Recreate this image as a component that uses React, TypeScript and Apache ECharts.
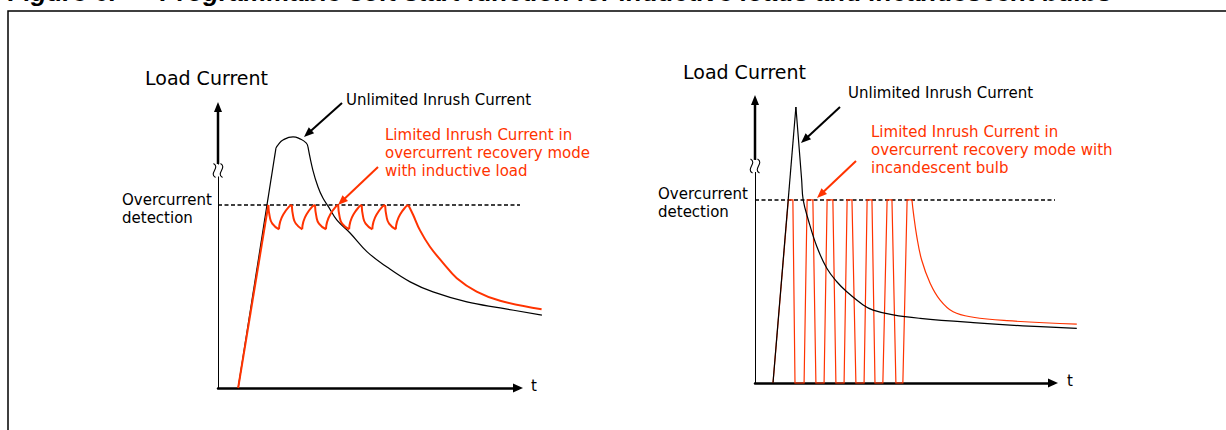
import React, { useEffect, useRef } from "react";
import * as echarts from "echarts";

// ---------- texts ----------
const titleNumber = "Figure 6.";
const titleText = "Programmable soft start function for inductive loads and incandescent bulbs";
const axisName = "Load Current";
const timeName = "t";
const detectionLines = ["Overcurrent", "detection"];
const unlimitedLabel = "Unlimited Inrush Current";
const leftLimitedLines = ["Limited Inrush Current in", "overcurrent recovery mode", "with inductive load"];
const rightLimitedLines = ["Limited Inrush Current in", "overcurrent recovery mode with", "incandescent bulb"];

// ---------- data (t in arbitrary time units, current in arbitrary units) ----------
const overcurrentLevel = 64;
const leftDetection = [[0, overcurrentLevel], [99.7, overcurrentLevel]];
const rightDetection = [[0, overcurrentLevel], [99.7, overcurrentLevel]];

const leftAxisUpper = [[0, 78.3], [0, 98.25]];
const rightAxisUpper = [[0, 78.0], [0, 98.95]];

// left chart: inductive load
const leftBlackRise = [[6.6, 0], [19.0, 83.9]];
const leftBlackDome = [[19.0, 83.9], [19.7, 85.0], [21.3, 86.7], [24.6, 87.8], [26.9, 87.1], [28.9, 85.7], [29.5, 84.3]];
const leftBlackDecay = [[29.5, 84.3], [31.1, 76.2], [32.8, 70.3], [34.4, 66.4], [36.1, 63.6], [39.0, 58.7], [43.3, 54.2], [48.9, 47.6], [55.4, 42.3], [63.0, 37.1], [70.5, 33.6], [81.6, 30.1], [92.5, 28.0], [106.2, 25.5]];

const leftRedRise = [[6.6, 0], [16.5, 64]];
const leftRedFall1 = [[16.5, 64], [16.95, 60], [17.8, 57.5], [20.0, 55.5]];
const leftRedRise1 = [[20.0, 55.5], [20.35, 58], [21.4, 60.7], [23.4, 63.5], [24.2, 64]];
const leftRedFall2 = [[24.2, 64], [24.65, 60], [25.5, 57.5], [27.6, 55.5]];
const leftRedRise2 = [[27.6, 55.5], [27.95, 58], [29.0, 60.7], [31.0, 63.5], [31.8, 64]];
const leftRedFall3 = [[31.8, 64], [32.25, 60], [33.1, 57.5], [35.4, 55.5]];
const leftRedRise3 = [[35.4, 55.5], [35.75, 58], [36.8, 60.7], [38.7, 63.5], [39.4, 64]];
const leftRedFall4 = [[39.4, 64], [39.85, 60], [40.7, 57.5], [43.0, 55.5]];
const leftRedRise4 = [[43.0, 55.5], [43.35, 58], [44.4, 60.7], [46.4, 63.5], [47.1, 64]];
const leftRedFall5 = [[47.1, 64], [47.55, 60], [48.4, 57.5], [50.6, 55.5]];
const leftRedRise5 = [[50.6, 55.5], [50.95, 58], [52.0, 60.7], [54.0, 63.5], [54.8, 64]];
const leftRedFall6 = [[54.8, 64], [55.25, 60], [56.1, 57.5], [58.3, 55.5]];
const leftRedRise6 = [[58.3, 55.5], [58.65, 58], [59.7, 60.7], [61.7, 63.5], [62.4, 64]];
const leftRedTail = [[62.4, 64], [64.0, 60.5], [66.2, 55.2], [69.5, 49.4], [73.9, 43.6], [78.3, 38.4], [84.8, 33.7], [92.5, 30.5], [106.1, 27.5]];

// right chart: incandescent bulb
const rightBlackRise = [[5.94, 0], [13.5, 96.5]];
const rightBlackFall = [[13.5, 96.5], [15.4, 71.0], [15.9, 64.0], [17.6, 57.0], [20.4, 47.7], [23.7, 40.1], [27.0, 35.4], [30.3, 31.9], [35.7, 27.3], [39.0, 25.5], [45.6, 23.8], [54.5, 22.6], [72.0, 21.1], [88.4, 20.0], [106.2, 19.1]];
const rightRedPulses = [[5.94, 0], [11.0, 64], [12.5, 64], [13.2, 0], [16.2, 0], [17.2, 64], [19.1, 64], [20.1, 0], [22.8, 0], [23.8, 64], [25.7, 64], [26.7, 0], [29.4, 0], [30.4, 64], [32.0, 64], [33.3, 0], [36.0, 0], [37.0, 64], [38.6, 64], [39.6, 0], [42.2, 0], [43.6, 64], [45.2, 64], [46.5, 0], [48.8, 0], [50.2, 64], [51.8, 64]];
const rightRedTail = [[51.8, 64], [52.3, 59.3], [53.4, 51.2], [55.0, 43.0], [57.8, 34.9], [61.1, 29.0], [65.4, 24.9], [72.0, 23.0], [83.1, 21.8], [106.2, 20.6]];

// ---------- styles ----------
const RED = "#ff3300";
const BLACK = "#000000";
const FONT = "DejaVu Sans";

function ln(grid: number, data: number[][], color: string, width: number, smooth: boolean | number, z: number, dash?: any) {
  return {
    type: "line",
    xAxisIndex: grid,
    yAxisIndex: grid,
    data,
    symbol: "none",
    showSymbol: false,
    smooth,
    clip: false,
    silent: true,
    z,
    lineStyle: { color, width, type: dash || "solid", cap: "butt", join: "miter" },
  };
}

function txt(text: string, x: number, y: number, size: number, color = BLACK, extra: any = {}) {
  return {
    type: "text",
    z: 10,
    style: {
      text,
      x,
      y,
      fill: color,
      fontSize: size,
      fontFamily: FONT,
      textAlign: "left",
      textVerticalAlign: "middle",
      align: "left",
      verticalAlign: "middle",
      ...extra,
    },
  };
}

function arrow(x1: number, y1: number, x2: number, y2: number, color: string, width: number, head = 10, headW = 8) {
  const dx = x2 - x1;
  const dy = y2 - y1;
  const len = Math.hypot(dx, dy);
  const ux = dx / len;
  const uy = dy / len;
  const bx = x2 - ux * head;
  const by = y2 - uy * head;
  const px = -uy;
  const py = ux;
  return [
    { type: "line", z: 10, shape: { x1, y1, x2: bx + ux, y2: by + uy }, style: { stroke: color, lineWidth: width } },
    {
      type: "polygon",
      z: 10,
      shape: { points: [[x2, y2], [bx + (px * headW) / 2, by + (py * headW) / 2], [bx - (px * headW) / 2, by - (py * headW) / 2]] },
      style: { fill: color },
    },
  ];
}

function breakMark(cx: number, cy: number) {
  const curve = (ox: number) => ({
    type: "bezierCurve",
    z: 11,
    shape: { x1: ox - 1, y1: cy - 7, cpx1: ox + 6, cpy1: cy - 3, cpx2: ox - 6, cpy2: cy + 3, x2: ox + 1, y2: cy + 7 },
    style: { stroke: BLACK, lineWidth: 1.1, fill: "none" },
  });
  return [
    { type: "rect", z: 10, shape: { x: cx - 2.5, y: cy - 6, width: 5, height: 12 }, style: { fill: "#fff" } },
    curve(cx - 3.5),
    curve(cx + 3.5),
  ];
}

function axisX(grid: number, max: number, show = true) {
  return {
    type: "value",
    gridIndex: grid,
    min: 0,
    max,
    show,
    axisLine: { show, onZero: false, symbol: ["none", "triangle"], symbolSize: [9, 10], lineStyle: { color: BLACK, width: 2.5 } },
    axisTick: { show: false },
    axisLabel: { show: false },
    splitLine: { show: false },
  };
}
function axisY(grid: number, max: number, show = true) {
  return {
    type: "value",
    gridIndex: grid,
    min: 0,
    max,
    show,
    axisLine: { show, onZero: false, symbol: ["none", "triangle"], symbolSize: [8, 10], lineStyle: { color: BLACK, width: 1 } },
    axisTick: { show: false },
    axisLabel: { show: false },
    splitLine: { show: false },
  };
}

const leftRedSegments = [leftRedRise, leftRedFall1, leftRedRise1, leftRedFall2, leftRedRise2, leftRedFall3, leftRedRise3, leftRedFall4, leftRedRise4, leftRedFall5, leftRedRise5, leftRedFall6, leftRedRise6];

// grids 0/1 hold the drawn axes; grids 2/3 are wider overlays with the same scale for the curves
const L = 2;
const R = 3;

const option: any = {
  animation: false,
  backgroundColor: "#ffffff",
  grid: [
    { left: 218, top: 107, width: 300, height: 281, outerBoundsMode: "none" },
    { left: 755, top: 100, width: 298, height: 283, outerBoundsMode: "none" },
    { left: 218, top: 107, width: 340, height: 281, outerBoundsMode: "none" },
    { left: 755, top: 100, width: 340, height: 283, outerBoundsMode: "none" },
  ],
  xAxis: [axisX(0, 98.36), axisX(1, 98.35), axisX(2, 111.48, false), axisX(3, 112.21, false)],
  yAxis: [axisY(0, 98.25), axisY(1, 98.95), axisY(2, 98.25, false), axisY(3, 98.95, false)],
  series: [
    ln(0, leftAxisUpper, BLACK, 2.5, false, 3),
    ln(1, rightAxisUpper, BLACK, 2.5, false, 3),
    ln(0, leftDetection, BLACK, 1.5, false, 2, [4, 2.5]),
    ln(1, rightDetection, BLACK, 1.5, false, 2, [4, 2.5]),
    // left
    ln(L, leftBlackRise, BLACK, 1.2, false, 4),
    ln(L, leftBlackDome, BLACK, 1.2, 0.5, 4),
    ln(L, leftBlackDecay, BLACK, 1.2, 0.4, 4),
    ...leftRedSegments.map((s, i) => ln(L, s, RED, 2, i === 0 ? false : 0.5, 5)),
    ln(L, leftRedTail, RED, 2, 0.4, 5),
    // right
    ln(R, rightRedPulses, RED, 1.2, false, 4),
    ln(R, rightRedTail, RED, 1.2, 0.4, 4),
    ln(R, rightBlackRise, BLACK, 1.2, false, 5),
    ln(R, rightBlackFall, BLACK, 1.2, 0.4, 5),
  ],
  graphic: [
    { type: "polyline", z: 10, shape: { points: [[8, 430], [8, 11], [1226, 11]] }, style: { stroke: BLACK, lineWidth: 1.5, fill: "none" } },
    txt(titleNumber, 8, 5, 26, BLACK, { fontFamily: "Liberation Sans", fontWeight: "bold", fontStyle: "italic", textVerticalAlign: "bottom", verticalAlign: "bottom" }),
    txt(titleText, 160, 5, 26, BLACK, { fontFamily: "Liberation Sans", fontWeight: "bold", fontStyle: "italic", textVerticalAlign: "bottom", verticalAlign: "bottom" }),
    // left annotations
    txt(axisName, 145, 78, 19),
    txt(unlimitedLabel, 346, 100, 15),
    txt(leftLimitedLines[0], 385, 135, 15, RED),
    txt(leftLimitedLines[1], 385, 153, 15, RED),
    txt(leftLimitedLines[2], 385, 171, 15, RED),
    txt(detectionLines[0], 122, 200, 15),
    txt(detectionLines[1], 122, 218, 15),
    txt(timeName, 531, 386, 15),
    ...arrow(342, 103, 304, 137, BLACK, 2),
    ...arrow(378, 167, 338, 205, RED, 2),
    ...breakMark(218, 170.5),
    // right annotations
    txt(axisName, 683, 72, 19),
    txt(unlimitedLabel, 848, 93, 15),
    txt(rightLimitedLines[0], 871, 132, 15, RED),
    txt(rightLimitedLines[1], 871, 150, 15, RED),
    txt(rightLimitedLines[2], 871, 168, 15, RED),
    txt(detectionLines[0], 658, 194, 15),
    txt(detectionLines[1], 658, 212, 15),
    txt(timeName, 1067, 381, 15),
    ...arrow(840, 107, 801, 143, BLACK, 2),
    ...arrow(856, 161, 817, 198, RED, 2),
    ...breakMark(755, 166),
  ],
};

export default function App() {
  const ref = useRef<HTMLDivElement>(null);
  useEffect(() => {
    if (!ref.current) return;
    const chart = echarts.init(ref.current, undefined, { renderer: "svg" });
    chart.setOption(option);
    return () => chart.dispose();
  }, []);
  return <div ref={ref} style={{ position: "fixed", left: 0, top: 0, width: 1226, height: 430, background: "#fff" }} />;
}
